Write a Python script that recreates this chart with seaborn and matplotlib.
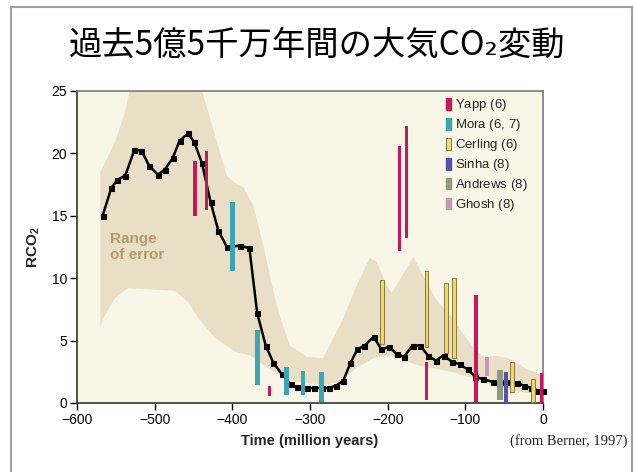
import numpy as np
import matplotlib
matplotlib.use("Agg")
import matplotlib.pyplot as plt
from matplotlib.patches import Patch, Rectangle
import seaborn as sns

# ---- GEOCARB-style RCO2 curve (ratio of past to present CO2) ----
time_my = [-567, -556, -548, -538, -526, -517, -507, -496, -487, -477,
           -468, -457, -449, -439, -428, -418, -407, -390, -378, -368,
           -357, -347, -336, -325, -317, -304, -295, -285, -276, -266,
           -257, -248, -239, -230, -218, -208, -198, -188, -179, -168,
           -158, -148, -138, -128, -117, -107, -97, -87, -77, -65,
           -55, -45, -34, -25, -15, -6, 0]
rco2 = [15.0, 17.2, 17.9, 18.2, 20.3, 20.2, 19.0, 18.3, 18.7, 19.6,
        21.0, 21.6, 20.9, 19.2, 16.1, 13.8, 12.5, 12.6, 12.4, 7.2,
        4.6, 3.2, 2.3, 1.5, 1.3, 1.2, 1.2, 1.2, 1.2, 1.4,
        1.8, 3.2, 4.3, 4.6, 5.3, 4.3, 4.5, 3.9, 3.7, 4.6,
        4.6, 3.8, 3.4, 3.8, 3.3, 3.1, 2.7, 2.1, 1.9, 1.7,
        1.7, 1.7, 1.6, 1.4, 1.2, 1.0, 1.0]

# ---- range of error envelope ----
upper_t = [-570, -566, -551, -538, -529, -440, -439, -422, -407, -396,
           -386, -373, -360, -347, -338, -326, -304, -283, -270, -257,
           -240, -223, -214, -201, -195, -185, -167, -139, -117, -92,
           -75, -62, -45, -23, 0]
upper_v = [18.5, 19.0, 20.9, 23.3, 26.0, 26.0, 25.0, 21.4, 18.2, 17.6,
           17.3, 15.8, 12.6, 8.9, 6.8, 4.6, 3.7, 3.6, 5.2, 6.8,
           9.4, 11.6, 11.3, 9.4, 8.8, 9.8, 11.7, 8.4, 6.8, 4.6,
           3.6, 3.8, 3.6, 2.8, 2.2]
lower_t = [-570, -566, -551, -534, -474, -457, -444, -422, -396, -377,
           -347, -317, -283, -261, -240, -218, -197, -160, -118, -75,
           -32, 0]
lower_v = [6.0, 6.8, 8.4, 9.2, 9.0, 8.1, 6.8, 5.2, 4.1, 3.8,
           2.5, 1.7, 1.45, 1.7, 2.8, 3.6, 3.8, 3.0, 2.5, 1.7,
           0.9, 0.65]

# ---- proxy estimates: (age, low, high) per source ----
yapp_t = [-448, -433, -352, -185, -176, -150, -86, -2]
yapp_lo = [15.0, 15.5, 0.6, 12.2, 13.2, 0.25, 0.1, 0.0]
yapp_hi = [19.4, 20.2, 1.4, 20.6, 22.2, 3.3, 8.65, 2.4]

mora_t = [-400, -368, -330, -309, -285]
mora_lo = [10.6, 1.45, 0.65, 0.65, 0.1]
mora_hi = [16.1, 5.85, 2.9, 2.6, 2.5]

cerling_t = [-207, -150, -125, -115, -40, -13]
cerling_lo = [4.7, 4.5, 4.0, 3.6, 0.9, 0.1]
cerling_hi = [9.85, 10.6, 9.6, 10.0, 3.3, 1.95]

sinha_t = [-48]
sinha_lo = [0.0]
sinha_hi = [2.5]

andrews_t = [-55]
andrews_lo = [0.25]
andrews_hi = [2.65]

ghosh_t = [-72.5]
ghosh_lo = [2.2]
ghosh_hi = [3.7]

legend_labels = ["Yapp ($\\mathit{6}$)", "Mora ($\\mathit{6}$, $\\mathit{7}$)",
                 "Cerling ($\\mathit{6}$)", "Sinha ($\\mathit{8}$)",
                 "Andrews ($\\mathit{8}$)", "Ghosh ($\\mathit{8}$)"]

sns.set_theme(style="ticks")
plt.rcParams["font.family"] = ["Liberation Sans", "DejaVu Sans"]
plt.rcParams["mathtext.fontset"] = "custom"
plt.rcParams["mathtext.rm"] = "Liberation Sans"
plt.rcParams["mathtext.it"] = "Liberation Sans:italic"
plt.rcParams["mathtext.bf"] = "Liberation Sans:bold"

fig = plt.figure(figsize=(6.34, 4.72), dpi=100)
fig.patch.set_facecolor("white")
ax = fig.add_axes([77 / 634, 1 - 403 / 472, 466 / 634, 312 / 472])
ax.set_facecolor("#f8f6e7")

# error envelope as a closed polygon
ax.fill(np.r_[upper_t, lower_t[::-1]], np.r_[upper_v, lower_v[::-1]],
        color="#e9dec6", lw=0, zorder=1)

sns.lineplot(x=time_my, y=rco2, ax=ax, color="black", linewidth=1.8,
             marker="s", markersize=3.6, markeredgecolor="black",
             errorbar=None, zorder=3, clip_on=False)

def proxy(ts, lo, hi, face, edge=None, width=5.0, lw=0.0):
    ax.bar(ts, np.array(hi) - np.array(lo), bottom=lo, width=width,
           color=face, edgecolor=edge if edge else face, linewidth=lw,
           zorder=4)

c_yapp, c_mora, c_cer, c_cer_e = "#c8165c", "#3aa6b4", "#f2d76e", "#8a7a40"
c_sinha, c_andr, c_ghosh = "#5652a8", "#8e9a80", "#c498b6"

proxy(yapp_t, yapp_lo, yapp_hi, c_yapp, width=4.5)
proxy(mora_t, mora_lo, mora_hi, c_mora, width=6.0)
proxy(cerling_t, cerling_lo, cerling_hi, c_cer, c_cer_e, width=5.0, lw=0.7)
proxy(andrews_t, andrews_lo, andrews_hi, c_andr, width=8.0)
proxy(sinha_t, sinha_lo, sinha_hi, c_sinha, width=5.0)
proxy(ghosh_t, ghosh_lo, ghosh_hi, c_ghosh, width=5.5)

ax.set_xlim(-600, 0)
ax.set_ylim(0, 25)
ax.set_xticks([-600, -500, -400, -300, -200, -100, 0])
ax.set_yticks([0, 5, 10, 15, 20, 25])
ax.tick_params(axis="both", direction="out", length=5, width=1,
               labelsize=10, pad=2, colors="black")
for s in ["left", "bottom"]:
    ax.spines[s].set_color("#333333")
    ax.spines[s].set_linewidth(1.2)
for s in ["top", "right"]:
    ax.spines[s].set_visible(True)
    ax.spines[s].set_color("#7a7a7a")
    ax.spines[s].set_linewidth(1.2)

ax.set_xlabel("Time (million years)", fontsize=10.5, fontweight="bold")
ax.xaxis.set_label_coords(0.5, -0.1)
ax.set_ylabel("$\\mathbf{RCO}_\\mathbf{2}$", fontsize=11)
ax.yaxis.set_label_coords(-0.075, 0.5)

ax.text(-557, 12.5, "Range\nof error", fontsize=11, fontweight="bold",
        color="#b39c6c", ha="left", va="center", linespacing=1.1, zorder=2)

handles = [Patch(facecolor=c_yapp, edgecolor=c_yapp),
           Patch(facecolor=c_mora, edgecolor=c_mora),
           Patch(facecolor=c_cer, edgecolor=c_cer_e, linewidth=0.7),
           Patch(facecolor=c_sinha, edgecolor=c_sinha),
           Patch(facecolor=c_andr, edgecolor=c_andr),
           Patch(facecolor=c_ghosh, edgecolor=c_ghosh)]
ax.legend(handles, legend_labels, loc="upper left",
          bbox_to_anchor=(0.792, 0.98), frameon=False, fontsize=9.5,
          handlelength=0.35, handleheight=1.0, handletextpad=0.35,
          labelspacing=0.3, borderpad=0.0, borderaxespad=0.0)

fig.text(0.5, 1 - 45 / 472, "過去5億5千万年間の大気CO₂変動",
         family=["Noto Sans CJK JP", "DejaVu Sans"], fontsize=24,
         ha="center", va="center", color="black")

fig.text(627 / 634, 1 - 441 / 472, "(from Berner, 1997)",
         family=["Liberation Serif"], fontsize=10.5, ha="right",
         va="center", color="#222222")

# slide border
fig.add_artist(Rectangle((11 / 634, -0.02), 621 / 634, 1 - 7 / 472 + 0.02,
                         transform=fig.transFigure, fill=False,
                         edgecolor="#a0a0a0", linewidth=1.5))

fig.savefig("out.png", dpi=100)
